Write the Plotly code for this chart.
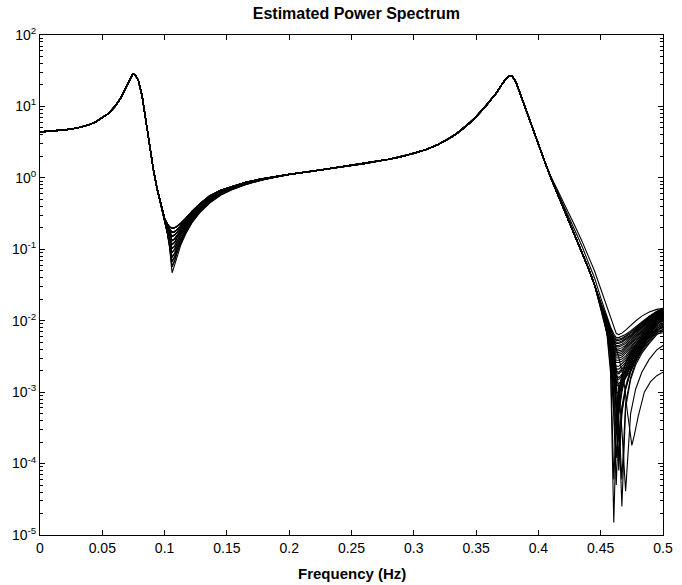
import plotly.graph_objects as go

# ---------------- data ----------------
# Low-frequency part, common to all estimates (Hz, power)
freq_lo = [0, 0.01, 0.02, 0.03, 0.04, 0.045, 0.05, 0.055, 0.06, 0.065, 0.069,
           0.072, 0.0745, 0.0765, 0.079, 0.082, 0.085, 0.088, 0.091, 0.094, 0.097]
psd_lo = [4.4, 4.5, 4.7, 5.0, 5.6, 6.1, 6.9, 8.0, 9.9, 13.2, 18.5,
          24, 28.5, 27.5, 23, 13.8, 6.2, 2.7, 1.3, 0.7, 0.42]

# First notch (~0.106 Hz): the estimates spread out here
freq_dip1 = [0.1, 0.102, 0.104, 0.106, 0.108, 0.11, 0.113, 0.117, 0.122,
             0.128, 0.136, 0.145, 0.155, 0.165, 0.178, 0.19]
dip1_profiles = [
    [0.27, 0.23, 0.205, 0.197, 0.2, 0.21, 0.23, 0.27, 0.34, 0.43, 0.56, 0.67, 0.77, 0.87, 0.97, 1.06],
    [0.268, 0.225, 0.19, 0.172, 0.176, 0.188, 0.21, 0.25, 0.32, 0.41, 0.54, 0.66, 0.76, 0.86, 0.965, 1.058],
    [0.266, 0.218, 0.175, 0.152, 0.158, 0.172, 0.196, 0.237, 0.307, 0.4, 0.53, 0.65, 0.755, 0.855, 0.96, 1.055],
    [0.264, 0.212, 0.162, 0.132, 0.14, 0.158, 0.183, 0.225, 0.295, 0.39, 0.52, 0.64, 0.75, 0.85, 0.957, 1.052],
    [0.262, 0.206, 0.15, 0.117, 0.125, 0.145, 0.172, 0.214, 0.285, 0.38, 0.51, 0.63, 0.745, 0.845, 0.954, 1.05],
    [0.26, 0.2, 0.14, 0.102, 0.111, 0.132, 0.161, 0.204, 0.276, 0.371, 0.5, 0.62, 0.738, 0.84, 0.95, 1.047],
    [0.258, 0.195, 0.132, 0.09, 0.1, 0.121, 0.151, 0.195, 0.267, 0.362, 0.49, 0.612, 0.731, 0.835, 0.947, 1.044],
    [0.256, 0.19, 0.124, 0.077, 0.088, 0.11, 0.141, 0.186, 0.258, 0.353, 0.48, 0.604, 0.724, 0.83, 0.944, 1.041],
    [0.254, 0.185, 0.117, 0.067, 0.078, 0.1, 0.132, 0.178, 0.25, 0.343, 0.47, 0.595, 0.715, 0.82, 0.94, 1.038],
    [0.252, 0.18, 0.111, 0.057, 0.069, 0.09, 0.123, 0.171, 0.242, 0.332, 0.455, 0.583, 0.703, 0.81, 0.935, 1.034],
    [0.25, 0.175, 0.105, 0.047, 0.06, 0.08, 0.115, 0.165, 0.235, 0.32, 0.44, 0.57, 0.69, 0.8, 0.93, 1.03],
]

# Middle part incl. second peak and its fall (common)
freq_mid = [0.2, 0.22, 0.24, 0.26, 0.28, 0.29, 0.3, 0.31, 0.32, 0.325, 0.33, 0.335,
            0.34, 0.345, 0.35, 0.354, 0.358, 0.362, 0.366, 0.37, 0.374, 0.377, 0.379,
            0.382, 0.386, 0.39, 0.395, 0.4, 0.405, 0.41, 0.415, 0.42, 0.425, 0.43,
            0.435, 0.44, 0.445]
psd_mid = [1.12, 1.25, 1.41, 1.58, 1.82, 1.98, 2.2, 2.5, 2.95, 3.3, 3.7, 4.25,
           4.95, 5.9, 7.2, 8.5, 10.2, 12.5, 15.2, 19.5, 24.5, 27, 26.5,
           22, 14, 8.8, 5.0, 3.0, 1.7, 1.0, 0.62, 0.38, 0.24, 0.15,
           0.092, 0.055, 0.032]
# two estimates fall off slightly later after the second peak (0.41 .. 0.445 Hz)
tail_upper = [1.05, 0.7, 0.45, 0.3, 0.2, 0.13, 0.08, 0.05]
tail_upper2 = [1.02, 0.66, 0.41, 0.27, 0.17, 0.11, 0.066, 0.04]

# Second notch (~0.46 Hz) up to Nyquist
freq_dip2 = [0.45, 0.455, 0.458, 0.4605, 0.4625, 0.4645, 0.467, 0.47, 0.474,
             0.478, 0.483, 0.489, 0.495, 0.5]
dip2_profiles = [
    [0.028, 0.0155, 0.0105, 0.0078, 0.0066, 0.0064, 0.0067, 0.0074, 0.0086, 0.0099, 0.0116, 0.0132, 0.0144, 0.0149],
    [0.021, 0.0112, 0.0081, 0.0065, 0.0058, 0.0058, 0.006, 0.0064, 0.0072, 0.0081, 0.0096, 0.0116, 0.0136, 0.0147],
    [0.0175, 0.0100, 0.0074, 0.0059, 0.0053, 0.0053, 0.0055, 0.0059, 0.0066, 0.0076, 0.0091, 0.0112, 0.0133, 0.0144],
    [0.016, 0.0095, 0.0069, 0.0054, 0.0048, 0.0048, 0.005, 0.0054, 0.0061, 0.0071, 0.0086, 0.0107, 0.0129, 0.0141],
    [0.018, 0.0091, 0.0064, 0.0048, 0.0043, 0.0043, 0.0045, 0.0048, 0.0056, 0.0065, 0.0081, 0.0103, 0.0126, 0.0138],
    [0.0165, 0.0086, 0.0059, 0.0043, 0.0038, 0.0038, 0.0039, 0.0043, 0.005, 0.006, 0.0075, 0.0097, 0.0121, 0.0134],
    [0.017, 0.0081, 0.0054, 0.0039, 0.0034, 0.0034, 0.0035, 0.0039, 0.0046, 0.0055, 0.007, 0.0092, 0.0116, 0.013],
    [0.0155, 0.0077, 0.0049, 0.0035, 0.003, 0.003, 0.0031, 0.0035, 0.0041, 0.005, 0.0065, 0.0087, 0.0112, 0.0126],
    [0.017, 0.0072, 0.0045, 0.003, 0.0026, 0.0026, 0.0027, 0.003, 0.0037, 0.0045, 0.006, 0.0082, 0.0107, 0.0122],
    [0.0165, 0.0066, 0.0039, 0.0026, 0.0021, 0.0021, 0.0023, 0.0026, 0.0032, 0.004, 0.0054, 0.0077, 0.0103, 0.0118],
    [0.017, 0.0077, 0.0046, 0.0027, 0.0019, 0.0018, 0.002, 0.0022, 0.0028, 0.0036, 0.005, 0.0072, 0.0098, 0.0114],
    [0.016, 0.0073, 0.0042, 0.0023, 0.0016, 0.0015, 0.0017, 0.0019, 0.0024, 0.0031, 0.0045, 0.0067, 0.0094, 0.011],
    [0.0175, 0.0067, 0.0037, 0.0019, 0.0013, 0.0012, 0.0013, 0.0016, 0.002, 0.0027, 0.004, 0.0062, 0.0089, 0.0106],
    [0.017, 0.0075, 0.0042, 0.0019, 0.001, 0.00097, 0.0012, 0.0016, 0.0023, 0.003, 0.0043, 0.0063, 0.0088, 0.0102],
    [0.016, 0.0078, 0.0038, 0.0014, 0.0006, 0.00105, 0.0017, 0.0026, 0.0036, 0.0046, 0.0059, 0.0074, 0.009, 0.0098],
    [0.016, 0.008, 0.0035, 0.001, 0.00035, 0.0008, 0.0014, 0.0022, 0.0032, 0.0043, 0.0055, 0.007, 0.0085, 0.0094],
    [0.017, 0.0088, 0.0052, 0.0022, 0.0008, 0.0002, 0.00063, 0.0012, 0.0021, 0.0031, 0.0044, 0.0059, 0.0077, 0.009],
    [0.016, 0.0082, 0.0032, 0.0006, 0.00012, 0.00049, 0.001, 0.0017, 0.0025, 0.0035, 0.0047, 0.0061, 0.0079, 0.0086],
    [0.0165, 0.0085, 0.0048, 0.0018, 0.0005, 0.00008, 0.0005, 0.0011, 0.0019, 0.0028, 0.0039, 0.0053, 0.0071, 0.0082],
    [0.017, 0.0092, 0.006, 0.0032, 0.0014, 0.0004, 0.000025, 0.0006, 0.0015, 0.0024, 0.0035, 0.0048, 0.0064, 0.0072],
    [0.015, 0.0066, 0.0018, 0.000015, 0.0003, 0.0008, 0.0014, 0.0021, 0.003, 0.0038, 0.0047, 0.0057, 0.0065, 0.0068],
    [0.017, 0.0095, 0.0065, 0.004, 0.0022, 0.0011, 0.0003, 0.000041, 0.0005, 0.0011, 0.0019, 0.0029, 0.0039, 0.0045],
    [0.0172, 0.0102, 0.0076, 0.0061, 0.0055, 0.0055, 0.0057, 0.0061, 0.0069, 0.0078, 0.0093, 0.0114, 0.0134, 0.0145],
    [0.0168, 0.0097, 0.0071, 0.0056, 0.005, 0.005, 0.0052, 0.0056, 0.0063, 0.0073, 0.0088, 0.0109, 0.0131, 0.0142],
    [0.017, 0.0093, 0.0066, 0.0051, 0.0045, 0.0045, 0.0047, 0.0051, 0.0058, 0.0068, 0.0083, 0.0105, 0.0127, 0.0139],
    [0.017, 0.0088, 0.0061, 0.0045, 0.004, 0.004, 0.0042, 0.0045, 0.0053, 0.0062, 0.0078, 0.01, 0.0123, 0.0136],
    [0.0168, 0.0083, 0.0056, 0.0041, 0.0036, 0.0036, 0.0037, 0.0041, 0.0048, 0.0057, 0.0072, 0.0094, 0.0118, 0.0132],
    [0.016, 0.0079, 0.0051, 0.0037, 0.0032, 0.0032, 0.0033, 0.0037, 0.0043, 0.0052, 0.0067, 0.0089, 0.0114, 0.0128],
    [0.0165, 0.0074, 0.0047, 0.0032, 0.0028, 0.0028, 0.0029, 0.0032, 0.0039, 0.0047, 0.0062, 0.0084, 0.0109, 0.0124],
    [0.017, 0.0069, 0.0042, 0.0028, 0.0023, 0.0023, 0.0025, 0.0028, 0.0034, 0.0042, 0.0057, 0.0079, 0.0105, 0.012],
    [0.0168, 0.0072, 0.0043, 0.0026, 0.002, 0.0019, 0.0021, 0.0024, 0.003, 0.0038, 0.0052, 0.0074, 0.01, 0.0116],
    [0.0165, 0.0075, 0.0044, 0.0025, 0.0017, 0.0016, 0.0018, 0.002, 0.0026, 0.0033, 0.0047, 0.0069, 0.0096, 0.0112],
    [0.017, 0.007, 0.0039, 0.0021, 0.0014, 0.0013, 0.0015, 0.0017, 0.0022, 0.0029, 0.0042, 0.0064, 0.0091, 0.0108],
    [0.0165, 0.0083, 0.0036, 0.0008, 0.00025, 0.0006, 0.0012, 0.0019, 0.0028, 0.0039, 0.0051, 0.0066, 0.0082, 0.0091],
    [0.017, 0.0087, 0.005, 0.002, 0.0006, 0.00012, 0.00055, 0.0011, 0.002, 0.003, 0.0041, 0.0056, 0.0074, 0.0084],
    [0.0165, 0.009, 0.0058, 0.003, 0.0013, 0.0004, 0.00006, 0.0007, 0.0016, 0.0026, 0.0037, 0.005, 0.0067, 0.0076],
    [0.0155, 0.007, 0.0022, 0.00006, 0.0004, 0.001, 0.0017, 0.0025, 0.0035, 0.0044, 0.0054, 0.0065, 0.0075, 0.0079],
    [0.016, 0.0078, 0.003, 0.0005, 0.00005, 0.0005, 0.0011, 0.0018, 0.0027, 0.0036, 0.0047, 0.006, 0.007, 0.0074],
]
# Which first-notch profile each estimate follows
dip1_choice = [0, 0, 1, 0, 1, 2, 1, 2, 3, 2, 3, 4, 0, 5, 1, 6, 3, 7, 2, 8, 9, 10,
               0, 1, 0, 2, 1, 3, 0, 4, 2, 5, 1, 6, 3, 7, 8, 9]

# The lowest estimate at Nyquist, with its notch near 0.475 Hz
freq_low_tail = [0.45, 0.455, 0.46, 0.464, 0.467, 0.4695, 0.471, 0.473, 0.475,
                 0.477, 0.48, 0.485, 0.49, 0.495, 0.5]
psd_low_tail = [0.018, 0.011, 0.0058, 0.0033, 0.002, 0.0011, 0.0006, 0.0003, 0.00018,
                0.00025, 0.00045, 0.001, 0.0014, 0.0017, 0.0019]
low_tail_dip1 = 4

x_ticks = [0, 0.05, 0.1, 0.15, 0.2, 0.25, 0.3, 0.35, 0.4, 0.45, 0.5]
x_labels = ["0", "0.05", "0.1", "0.15", "0.2", "0.25", "0.3", "0.35", "0.4", "0.45", "0.5"]
y_ticks = [1e-5, 1e-4, 1e-3, 1e-2, 1e-1, 1e0, 1e1, 1e2]
y_labels = ["10<sup>-5</sup>", "10<sup>-4</sup>", "10<sup>-3</sup>", "10<sup>-2</sup>",
            "10<sup>-1</sup>", "10<sup>0</sup>", "10<sup>1</sup>", "10<sup>2</sup>"]

# ---------------- figure ----------------
fig = go.Figure()
line_style = dict(color="black", width=1.1)
n_tail = len(tail_upper)

for i, prof2 in enumerate(dip2_profiles):
    if i == 0:
        mid = psd_mid[:-n_tail] + tail_upper
    elif i == 1:
        mid = psd_mid[:-n_tail] + tail_upper2
    else:
        mid = psd_mid
    x = freq_lo + freq_dip1 + freq_mid + freq_dip2
    y = psd_lo + dip1_profiles[dip1_choice[i]] + mid + prof2
    fig.add_trace(go.Scatter(x=x, y=y, mode="lines", line=line_style,
                             hoverinfo="skip", showlegend=False))

fig.add_trace(go.Scatter(
    x=freq_lo + freq_dip1 + freq_mid + freq_low_tail,
    y=psd_lo + dip1_profiles[low_tail_dip1] + psd_mid + psd_low_tail,
    mode="lines", line=line_style, hoverinfo="skip", showlegend=False))

font_family = "Liberation Sans, Arial, Helvetica, sans-serif"
fig.update_layout(
    width=682, height=585,
    margin=dict(l=40, r=9, t=35, b=50),
    plot_bgcolor="white", paper_bgcolor="white",
    font=dict(family=font_family, size=14, color="black"),
    showlegend=False,
    title=dict(text="<b>Estimated Power Spectrum</b>", x=0.5225, xanchor="center",
               y=1 - 13 / 585, yanchor="middle", yref="container",
               font=dict(size=16, family=font_family, color="black")),
    annotations=[dict(text="<b>Frequency (Hz)</b>", xref="paper", yref="paper",
                      x=0.5, y=-48.5 / 500, xanchor="center", yanchor="bottom",
                      showarrow=False, font=dict(size=15, family=font_family, color="black"))],
)
fig.update_xaxes(
    range=[0, 0.5], tickvals=x_ticks, ticktext=x_labels,
    ticks="inside", ticklen=5, tickcolor="black", tickwidth=1,
    tickfont=dict(size=14, color="black"), ticklabeloverflow="allow",
    showline=True, linecolor="black", linewidth=1, mirror="ticks",
    showgrid=False, zeroline=False,
)
fig.update_yaxes(
    type="log", range=[-5, 2], tickvals=y_ticks, ticktext=y_labels,
    ticks="inside", ticklen=5, tickcolor="black", tickwidth=1,
    tickfont=dict(size=14, color="black"), ticklabeloverflow="allow",
    minor=dict(ticks="inside", ticklen=3, tickcolor="black", dtick="D1", showgrid=False),
    showline=True, linecolor="black", linewidth=1, mirror="ticks",
    showgrid=False, zeroline=False,
)

fig.write_html("out.html")
